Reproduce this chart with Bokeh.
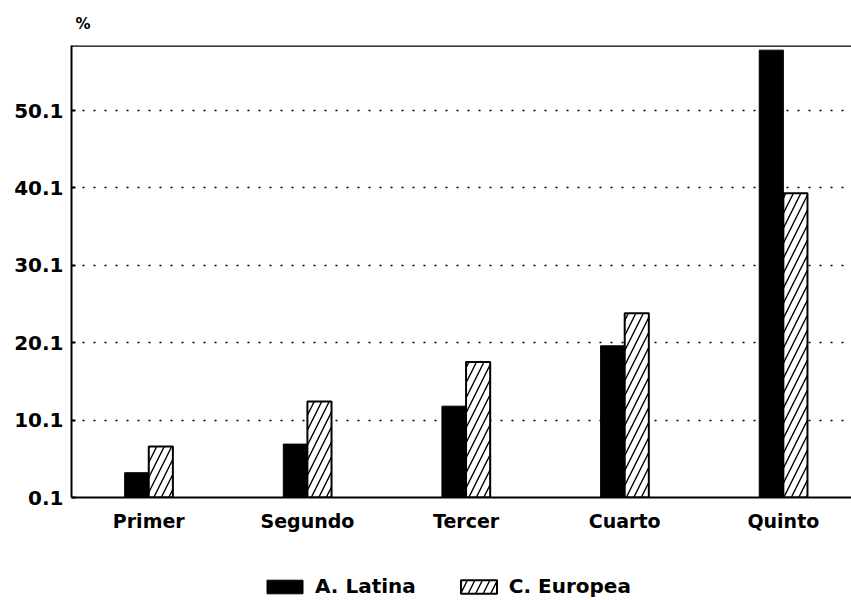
from bokeh.plotting import figure
from bokeh.layouts import column
from bokeh.models import (Range1d, FixedTicker, NumeralTickFormatter, Span,
                          Legend, LegendItem)
from bokeh.embed import file_html
from bokeh.resources import INLINE

# ---- data ----
categories = ["Primer", "Segundo", "Tercer", "Cuarto", "Quinto"]
series_names = ["A. Latina", "C. Europea"]
latina = [3.3, 7.0, 11.9, 19.7, 57.9]
europea = [6.7, 12.5, 17.6, 23.9, 39.4]
y_ticks = [0.1, 10.1, 20.1, 30.1, 40.1, 50.1]
y_base = 0.1
y_top = 58.5
unit_label = "%"

FONT = "DejaVu Sans"

xs = list(range(len(categories)))
bw = 0.152

latina_style = dict(fill_color="black", line_color="black", line_width=1)
europea_style = dict(fill_color="white", line_color="black", line_width=2,
                     hatch_pattern="/", hatch_color="black", hatch_weight=1.4,
                     hatch_scale=15)

p = figure(frame_width=780, frame_height=452, output_backend="svg", toolbar_location=None,
           x_range=Range1d(-0.487, 4.4295), y_range=Range1d(y_base, y_top),
           min_border_left=71, min_border_right=0, min_border_top=44,
           min_border_bottom=64, title=unit_label)
p.background_fill_color = "white"
p.border_fill_color = "white"
p.outline_line_color = None

p.title.text_font = FONT
p.title.text_font_style = "bold"
p.title.text_font_size = "15px"
p.title.text_color = "black"
p.title.align = "left"
p.title.offset = 4
p.title.standoff = 25

p.vbar(x=[x - bw / 2 for x in xs], top=latina, bottom=y_base, width=bw, **latina_style)
p.vbar(x=[x + bw / 2 for x in xs], top=europea, bottom=y_base, width=bw, **europea_style)

# top frame line
p.add_layout(Span(location=y_top, dimension="width", line_color="black", line_width=2.5))

# x axis
p.xaxis.ticker = FixedTicker(ticks=xs)
p.xaxis.major_label_overrides = {x: c for x, c in zip(xs, categories)}
p.xaxis.major_tick_line_color = None
p.xaxis.major_tick_out = 0
p.xaxis.major_tick_in = 0
p.xaxis.minor_tick_line_color = None
p.xaxis.axis_line_width = 2
p.xaxis.axis_line_color = "black"
p.xaxis.major_label_text_font = FONT
p.xaxis.major_label_text_font_style = "bold"
p.xaxis.major_label_text_font_size = "19px"
p.xaxis.major_label_text_color = "black"
p.xaxis.major_label_standoff = 12

# y axis
p.yaxis.ticker = FixedTicker(ticks=y_ticks)
p.yaxis.formatter = NumeralTickFormatter(format="0.0")
p.yaxis.major_tick_in = 4
p.yaxis.major_tick_out = 0
p.yaxis.major_tick_line_width = 2
p.yaxis.minor_tick_line_color = None
p.yaxis.axis_line_width = 2
p.yaxis.axis_line_color = "black"
p.yaxis.major_label_text_font = FONT
p.yaxis.major_label_text_font_style = "bold"
p.yaxis.major_label_text_font_size = "20px"
p.yaxis.major_label_text_color = "black"
p.yaxis.major_label_standoff = 8

p.xgrid.grid_line_color = None
p.ygrid.grid_line_color = "black"
p.ygrid.grid_line_width = 1.6
p.ygrid.grid_line_dash = "2 9"

# ---- legend strip (series drawn off-screen only to supply legend keys) ----
lg = figure(frame_width=780, frame_height=40, output_backend="svg", toolbar_location=None,
            x_axis_type=None, y_axis_type=None, min_border_left=71, min_border_right=0,
            min_border_top=0, min_border_bottom=0,
            x_range=Range1d(100, 101), y_range=Range1d(100, 101))
lg.outline_line_color = None
lg.grid.visible = False
lg.background_fill_color = "white"
lg.border_fill_color = "white"
k1 = lg.vbar(x=xs, top=latina, bottom=y_base, width=bw, **latina_style)
k2 = lg.vbar(x=xs, top=europea, bottom=y_base, width=bw, **europea_style)
legend = Legend(items=[LegendItem(label=series_names[0], renderers=[k1], index=0),
                       LegendItem(label=series_names[1], renderers=[k2], index=0)],
                orientation="horizontal", location=(191, 3),
                glyph_width=45, glyph_height=17, label_standoff=8, spacing=40,
                label_text_font=FONT, label_text_font_style="bold",
                label_text_font_size="20px", label_height=17,
                label_text_color="black",
                border_line_color=None, background_fill_alpha=0,
                padding=0, margin=0)
lg.add_layout(legend, "center")

layout = column(p, lg, spacing=0)
open("out.html", "w").write(file_html(layout, INLINE))
